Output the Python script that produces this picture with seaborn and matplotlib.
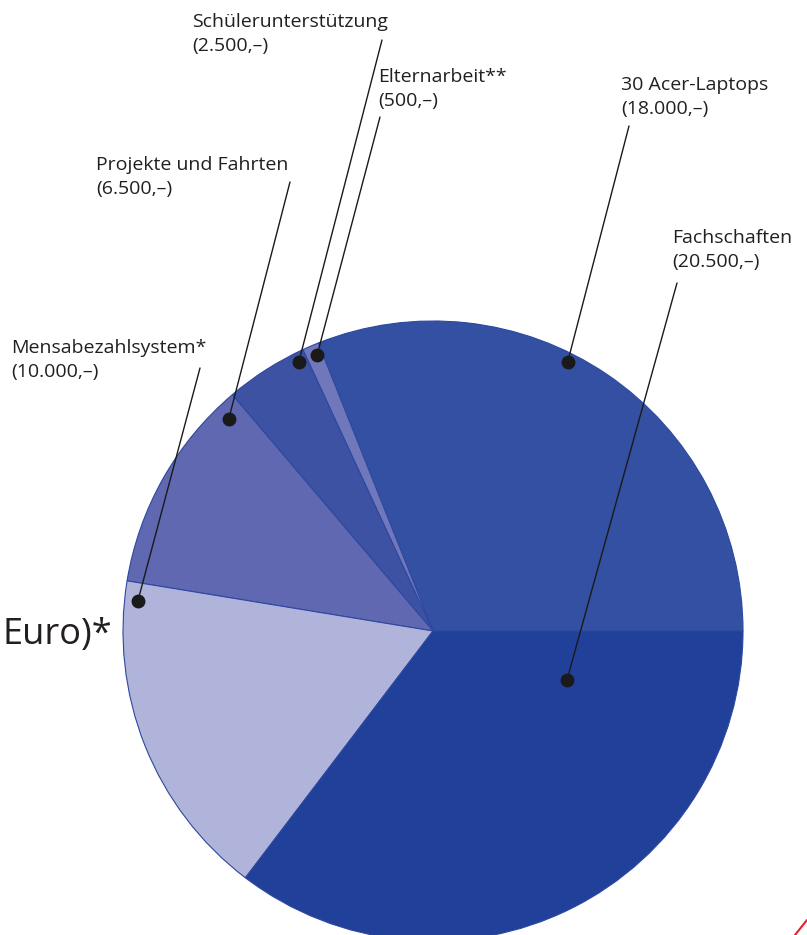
import matplotlib
matplotlib.use("Agg")
import matplotlib.pyplot as plt
import seaborn as sns
import numpy as np
from matplotlib.lines import Line2D

sns.set_theme(style="white")
plt.rcParams['font.family'] = ['Open Sans', 'DejaVu Sans']

# Data (counterclockwise from 3 o'clock)
categories = ["30 Acer-Laptops", "Elternarbeit**", "Schülerunterstützung",
              "Projekte und Fahrten", "Mensabezahlsystem*", "Fachschaften"]
values = [18000, 500, 2500, 6500, 10000, 20500]
value_labels = ["(18.000,–)", "(500,–)", "(2.500,–)", "(6.500,–)", "(10.000,–)", "(20.500,–)"]
colors = sns.color_palette(["#3350a2", "#7177bb", "#3d52a3", "#6068b1", "#b1b4da", "#21409a"])

W, H = 807, 935
fig = plt.figure(figsize=(W / 100, H / 100), dpi=100)

cx, cy, R = 433, 631, 310
ax = fig.add_axes([(cx - R) / W, (H - cy - R) / H, 2 * R / W, 2 * R / H])
wedges, _ = ax.pie(values, colors=colors, startangle=0, counterclock=True,
                   radius=1.0, wedgeprops=dict(edgecolor="#2c48a0", linewidth=0.8))
ax.set_xlim(-1, 1)
ax.set_ylim(-1, 1)
ax.set_aspect("equal")
ax.axis("off")

# annotation layout: dot position (angle deg, radius frac), label top-left (px), line start (px)
dots = [(63.4, 0.97), (112.8, 0.965), (116.5, 0.97), (133.9, 0.95), (174.2, 0.957), (-20.0, 0.46)]
label_pos = [(621, 76), (378, 68), (192, 13), (96, 156), (11, 339), (672, 229)]
line_start = [(629, 126), (380, 117), (382, 40), (290, 182), (200, 368), (677, 283)]

txt_color = "#231f20"
for cat, vl, (ang, r), (lx, ly), (sx, sy) in zip(categories, value_labels, dots, label_pos, line_start):
    dx = r * np.cos(np.radians(ang))
    dy = r * np.sin(np.radians(ang))
    ax.plot([dx], [dy], "o", color="#1a1a1a", markersize=9, zorder=5, clip_on=False)
    ax.annotate("", xy=(dx, dy), xycoords="data",
                xytext=(sx, H - sy), textcoords="figure pixels",
                arrowprops=dict(arrowstyle="-", color="#1a1a1a", lw=1.0,
                                shrinkA=0, shrinkB=0), annotation_clip=False)
    fig.text(lx / W, 1 - ly / H, f"{cat}\n{vl}", ha="left", va="top",
             fontsize=14, color=txt_color, linespacing=1.4)

fig.text(112 / W, 1 - 635 / H, "Euro)*", ha="right", va="center",
         fontsize=26, color=txt_color)

fig.add_artist(Line2D([795 / W, 1.0], [0.0, 15 / H], color="#e8202a", lw=1.5,
                      transform=fig.transFigure))

fig.savefig("out.png", dpi=100)
